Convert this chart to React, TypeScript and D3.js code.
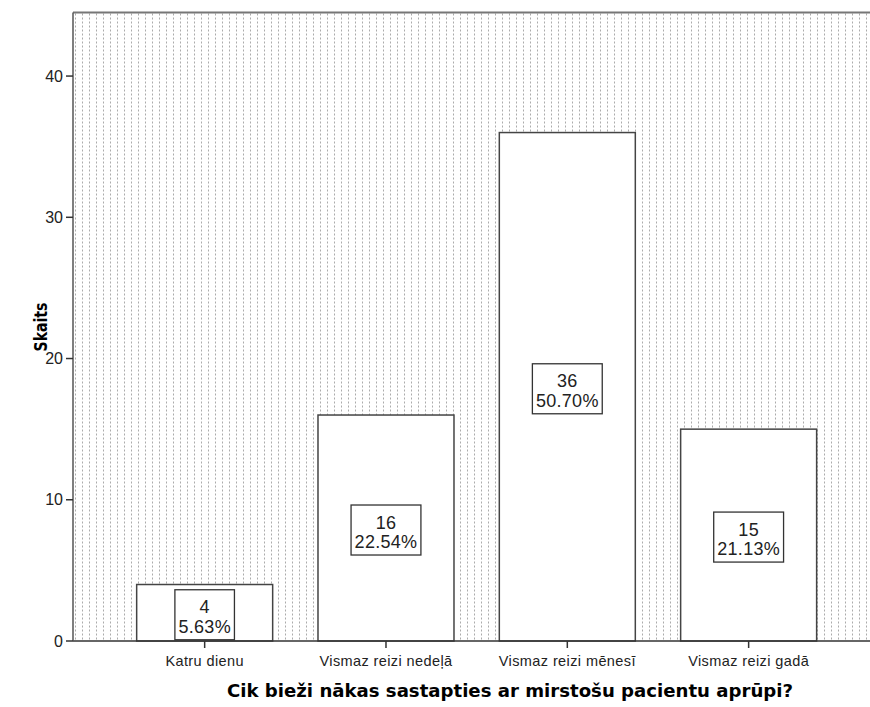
import React, { useEffect, useRef } from 'react';
import * as d3 from 'd3';

const categories = ['Katru dienu', 'Vismaz reizi nedeļā', 'Vismaz reizi mēnesī', 'Vismaz reizi gadā'];
const counts = [4, 16, 36, 15];
const yTicks = [0, 10, 20, 30, 40];
const xTitle = 'Cik bieži nākas sastapties ar mirstošu pacientu aprūpi?';
const yTitle = 'Skaits';

const App: React.FC = () => {
  const svgRef = useRef<SVGSVGElement | null>(null);
  const width = 870;
  const height = 707;

  useEffect(() => {
    if (!svgRef.current) return;
    const svg = d3.select(svgRef.current);
    svg.selectAll('*').remove();

    const plot = { left: 73, right: 870, top: 12.5, bottom: 641 };
    const total = d3.sum(counts);

    const x = d3
      .scaleBand<string>()
      .domain(categories)
      .range([114, 839.3])
      .paddingInner(0.25)
      .paddingOuter(0.125);

    const y = d3.scaleLinear().domain([0, 44.5]).range([plot.bottom, plot.top]);

    // dotted background pattern (SPSS style)
    const defs = svg.append('defs');
    const pat = defs
      .append('pattern')
      .attr('id', 'dots')
      .attr('patternUnits', 'userSpaceOnUse')
      .attr('x', plot.left + 2)
      .attr('y', plot.top + 1)
      .attr('width', 7)
      .attr('height', 4);
    pat.append('rect').attr('width', 7).attr('height', 4).attr('fill', 'white');
    pat
      .append('rect')
      .attr('x', 0)
      .attr('y', 0)
      .attr('width', 1)
      .attr('height', 2)
      .attr('fill', '#ababab')
      .attr('shape-rendering', 'crispEdges');

    svg
      .append('rect')
      .attr('x', plot.left)
      .attr('y', plot.top)
      .attr('width', plot.right - plot.left)
      .attr('height', plot.bottom - plot.top)
      .attr('fill', 'url(#dots)');

    // top border
    svg
      .append('line')
      .attr('x1', plot.left)
      .attr('x2', plot.right)
      .attr('y1', plot.top)
      .attr('y2', plot.top)
      .attr('stroke', '#777')
      .attr('stroke-width', 2);

    // bars
    svg
      .append('g')
      .selectAll('rect')
      .data(counts)
      .join('rect')
      .attr('x', (d, i) => x(categories[i])!)
      .attr('y', (d) => y(d))
      .attr('width', x.bandwidth())
      .attr('height', (d) => y(0) - y(d))
      .attr('fill', 'white')
      .attr('stroke', '#444')
      .attr('stroke-width', 1.5);

    // value labels in boxes
    const labels = svg
      .append('g')
      .selectAll('g')
      .data(counts)
      .join('g')
      .attr('transform', (d, i) => {
        const cx = x(categories[i])! + x.bandwidth() / 2;
        const cy = (y(d) + y(0)) / 2 + 2;
        return `translate(${cx},${cy})`;
      });

    const boxes = labels
      .append('rect')
      .attr('fill', 'white')
      .attr('stroke', '#333')
      .attr('stroke-width', 1.3);

    const t1 = labels
      .append('text')
      .attr('text-anchor', 'middle')
      .attr('y', -1.5)
      .style('font-family', '"Liberation Sans", Arial, sans-serif')
      .style('font-size', '18px')
      .style('letter-spacing', '0.3px')
      .style('fill', '#222')
      .text((d) => `${d}`);

    const t2 = labels
      .append('text')
      .attr('text-anchor', 'middle')
      .attr('y', 18)
      .style('font-family', '"Liberation Sans", Arial, sans-serif')
      .style('font-size', '18px')
      .style('letter-spacing', '0.3px')
      .style('fill', '#222')
      .text((d) => `${((d / total) * 100).toFixed(2)}%`);

    boxes.each(function (d, i) {
      const w2 = (t2.nodes()[i] as SVGTextElement).getComputedTextLength();
      const w1 = (t1.nodes()[i] as SVGTextElement).getComputedTextLength();
      const w = Math.max(w1, w2) + 7;
      d3.select(this)
        .attr('x', -w / 2)
        .attr('y', -25)
        .attr('width', w)
        .attr('height', 50);
    });

    // x axis
    svg
      .append('line')
      .attr('x1', plot.left)
      .attr('x2', plot.right)
      .attr('y1', plot.bottom)
      .attr('y2', plot.bottom)
      .attr('stroke', '#333')
      .attr('stroke-width', 1.5);

    const xt = svg.append('g').selectAll('g').data(categories).join('g')
      .attr('transform', (d) => `translate(${x(d)! + x.bandwidth() / 2},${plot.bottom})`);
    xt.append('line').attr('y1', 0).attr('y2', 7).attr('stroke', '#333').attr('stroke-width', 1.5);
    xt.append('text')
      .attr('y', 25)
      .attr('text-anchor', 'middle')
      .style('font-family', '"Liberation Sans", Arial, sans-serif')
      .style('font-size', '14.5px')
      .style('letter-spacing', '0.4px')
      .style('fill', '#222')
      .text((d) => d);

    // y axis
    svg
      .append('line')
      .attr('x1', plot.left)
      .attr('x2', plot.left)
      .attr('y1', plot.top)
      .attr('y2', plot.bottom)
      .attr('stroke', '#555')
      .attr('stroke-width', 1.5);

    const yt = svg.append('g').selectAll('g').data(yTicks).join('g')
      .attr('transform', (d) => `translate(${plot.left},${y(d)})`);
    yt.append('line').attr('x1', -7).attr('x2', 0).attr('stroke', '#333').attr('stroke-width', 1.5);
    yt.append('text')
      .attr('x', -10)
      .attr('dy', '0.35em')
      .attr('text-anchor', 'end')
      .style('font-family', '"Liberation Sans", Arial, sans-serif')
      .style('font-size', '16px')
      .style('fill', '#222')
      .text((d) => `${d}`);

    // axis titles
    svg
      .append('text')
      .attr('x', 510)
      .attr('y', 697)
      .attr('text-anchor', 'middle')
      .attr('textLength', 566)
      .attr('lengthAdjust', 'spacingAndGlyphs')
      .style('font-family', '"DejaVu Sans", sans-serif')
      .style('font-weight', 'bold')
      .style('font-size', '17px')
      .style('fill', '#000')
      .text(xTitle);

    svg
      .append('text')
      .attr('transform', 'translate(47,327) rotate(-90)')
      .attr('text-anchor', 'middle')
      .attr('textLength', 49)
      .attr('lengthAdjust', 'spacingAndGlyphs')
      .style('font-family', '"DejaVu Sans", sans-serif')
      .style('font-weight', 'bold')
      .style('font-size', '18px')
      .style('fill', '#000')
      .text(yTitle);
  }, []);

  return (
    <svg
      ref={svgRef}
      width={width}
      height={height}
      style={{ position: 'absolute', left: 0, top: 0, background: 'white' }}
    ></svg>
  );
};

export default App;
